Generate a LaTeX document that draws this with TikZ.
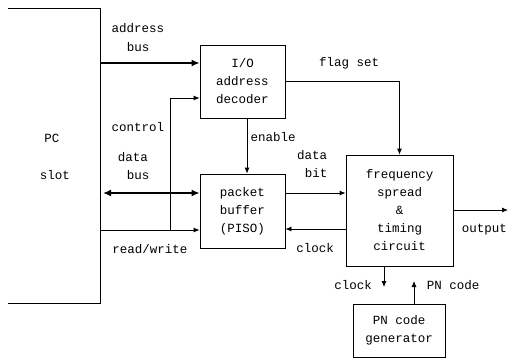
\documentclass[tikz,border=0pt]{standalone}
\usepackage{fontspec}
\setmonofont{Liberation Mono}
\usetikzlibrary{arrows.meta}
\begin{document}
\begin{tikzpicture}[x=1pt,y=-1pt,
  font=\ttfamily\fontsize{12.5}{18}\selectfont,
  box/.style={draw, line width=0.8pt, inner sep=0pt, align=center},
  lbl/.style={inner sep=0pt, align=center},
  sig/.style={line width=0.8pt, -{Latex[length=6pt,width=5pt]}},
  bus/.style={line width=2.4pt, -{Latex[length=8pt,width=7pt]}},
  dbus/.style={line width=2.4pt, {Latex[length=8pt,width=7pt]}-{Latex[length=8pt,width=7pt]}}]
\useasboundingbox (0,0) rectangle (508,360);
% PC slot (open on the left)
\draw[line width=0.8pt] (8,8) -- (100,8) -- (100,303) -- (8,303);
\node[lbl] (pc) at (52,138) {PC};
\node[lbl] (slot) at (55,175) {slot};
% boxes
\node[box, minimum width=85pt, minimum height=73pt] (dec) at (242.5,81.5) {I/O\\address\\decoder};
\node[box, minimum width=85pt, minimum height=74pt] (buf) at (242.5,211) {packet\\buffer\\(PISO)};
\node[box, minimum width=107pt, minimum height=111pt] (freq) at (399.5,210.5) {frequency\\spread\\\&\\timing\\circuit};
\node[box, minimum width=92pt, minimum height=53pt] (pn) at (399,330.5) {PN code\\generator};
% helper coordinates
\coordinate (pcA) at (100,63);
\coordinate (pcD) at (103,193);
\coordinate (pcR) at (100,230);
\coordinate (ctl) at (170,230);
\coordinate (ctlY) at (0,98);
\coordinate (flagY) at (0,81);
\coordinate (enX) at (247,0);
\coordinate (dbY) at (0,193);
\coordinate (ckY) at (0,229);
\coordinate (outY) at (0,210);
\coordinate (outE) at (508,210);
\coordinate (ckX) at (384,0);
\coordinate (ckEnd) at (384,287);
\coordinate (pnX) at (414,0);
\coordinate (pnEnd) at (414,281);
% connectors
\draw[bus] (pcA) -- (pcA -| dec.west);
\draw[sig] (ctl) |- (dec.west |- ctlY);
\draw[sig] (dec.east |- flagY) -| (freq.north);
\draw[sig] (dec.south -| enX) -- (buf.north -| enX);
\draw[dbus] (pcD) -- (buf.west |- dbY);
\draw[sig] (pcR) -- (buf.west |- pcR);
\draw[sig] (buf.east |- dbY) -- (freq.west |- dbY);
\draw[sig] (freq.west |- ckY) -- (buf.east |- ckY);
\draw[sig] (freq.east |- outY) -- (outE);
\draw[sig] (freq.south -| ckX) -- (ckEnd);
\draw[sig] (pn.north -| pnX) -- (pnEnd);
% labels
\node[lbl] (lAddr) at (138,28) {address};
\node[lbl] (lAbus) at (138,47) {bus};
\node[lbl] (lCtl) at (138,127) {control};
\node[lbl] (lData) at (133,157) {data};
\node[lbl] (lDbus) at (138,175) {bus};
\node[lbl] (lRW) at (150,249) {read/write};
\node[lbl] (lFlag) at (349,63) {flag set};
\node[lbl] (lEn) at (273,137) {enable};
\node[lbl] (lDat2) at (312,155) {data};
\node[lbl] (lBit) at (316,173) {bit};
\node[lbl] (lClk) at (315,248) {clock};
\node[lbl, anchor=east] (lOut) at (507,230) {output};
\node[lbl] (lClk2) at (353,285) {clock};
\node[lbl] (lPN) at (453,285) {PN code};
\end{tikzpicture}
\end{document}
